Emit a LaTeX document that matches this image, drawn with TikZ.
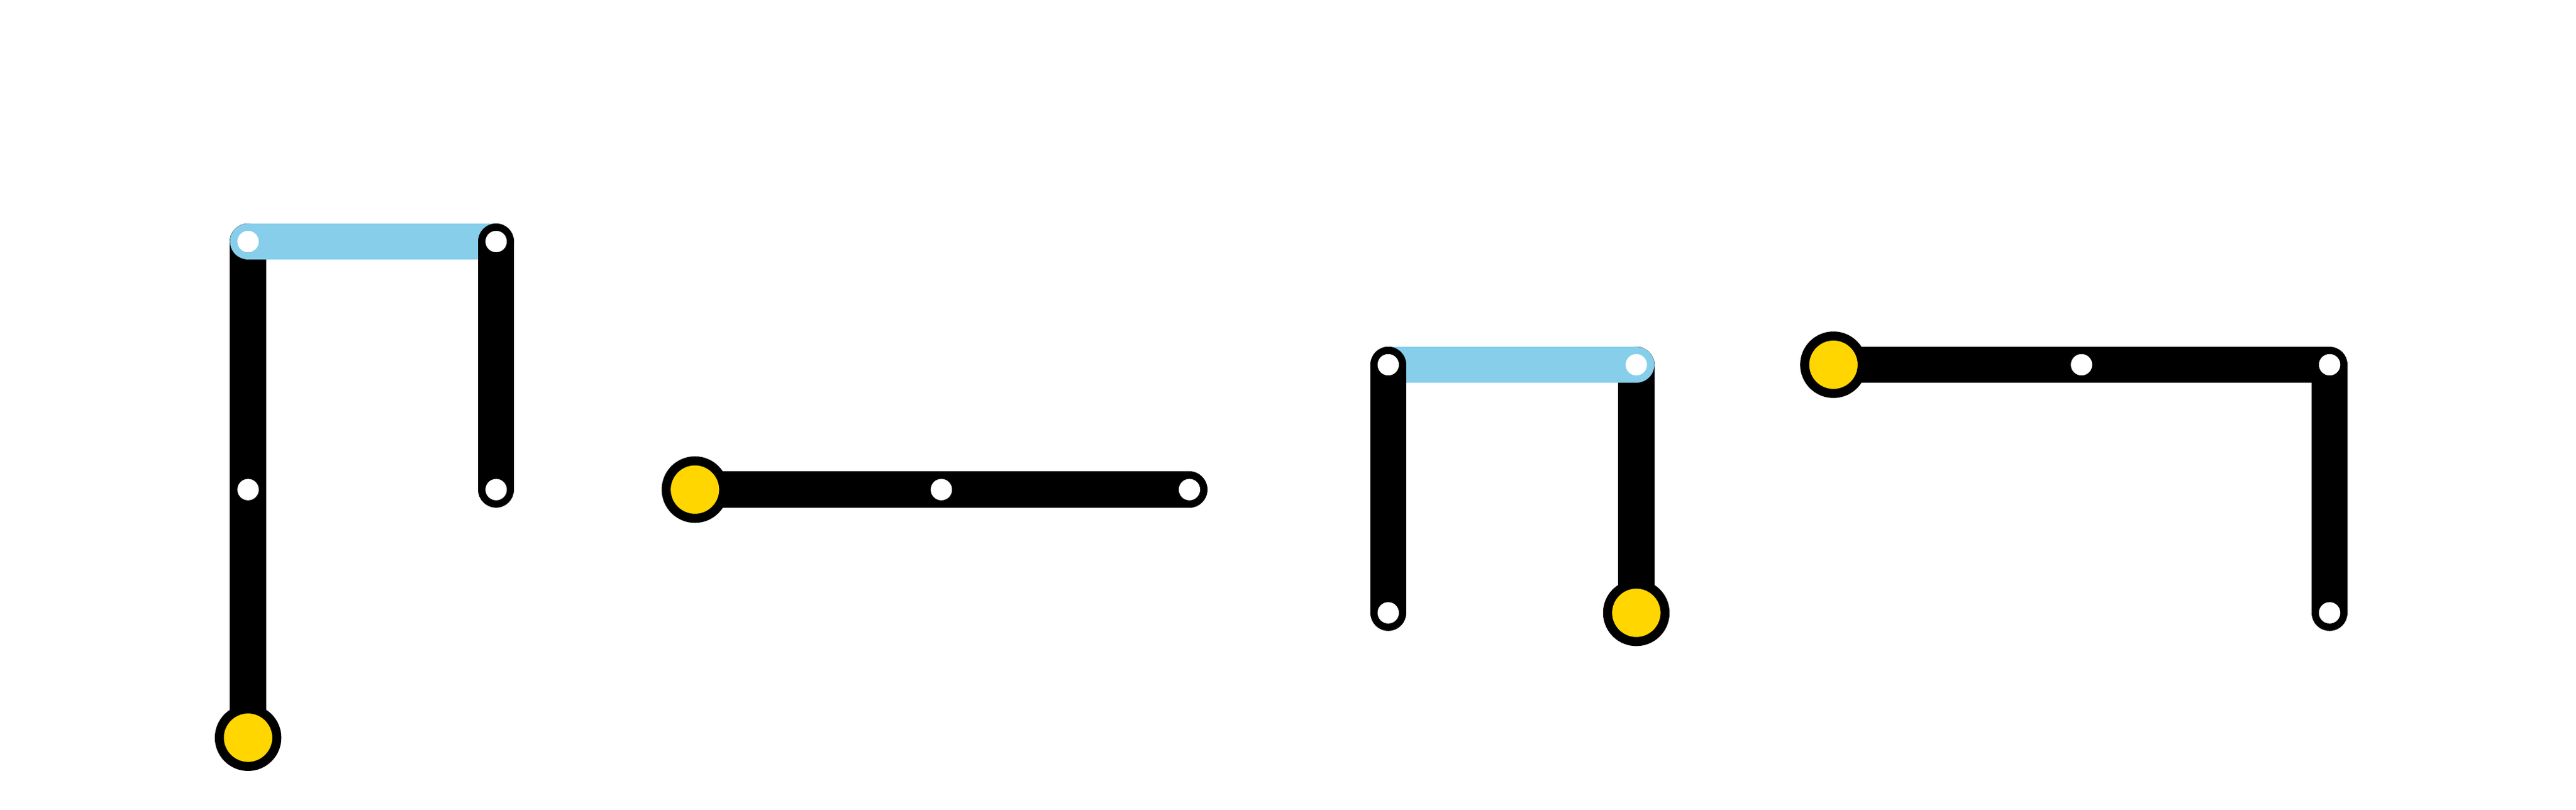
\documentclass[tikz,border=0pt]{standalone}
\begin{document}
\begin{tikzpicture}[x=1pt,y=-1pt,
  blk/.style={line width=22pt,line cap=round,line join=round,draw=black},
  blu/.style={line width=22pt,line cap=round,draw={rgb,255:red,135;green,206;blue,235}},
  st/.style={circle,fill=white,inner sep=0pt,minimum size=13pt},
  term/.style={circle,fill={rgb,255:red,255;green,214;blue,0},draw=black,line width=5.5pt,inner sep=0pt,minimum size=35pt}]
\useasboundingbox (0,0) rectangle (1568,493);
\coordinate (a1) at (151,147); \coordinate (a2) at (151,298); \coordinate (a3) at (151,449);
\coordinate (b1) at (302,147); \coordinate (b2) at (302,298);
\coordinate (c1) at (423,298); \coordinate (c2) at (573,298); \coordinate (c3) at (724,298);
\coordinate (d1) at (845,222); \coordinate (d2) at (845,373);
\coordinate (e1) at (996,222); \coordinate (e2) at (996,373);
\coordinate (f1) at (1116,222); \coordinate (f2) at (1267,222); \coordinate (f3) at (1418,222); \coordinate (f4) at (1418,373);
\draw[blk] (a3) -- (a1);
\draw[blu] (a1) -- (b1);
\draw[blk] (b1) -- (b2);
\draw[blk] (c1) -- (c3);
\draw[blk] (e1) -- (e2);
\draw[blu] (d1) -- (e1);
\draw[blk] (d1) -- (d2);
\draw[blk] (f1) -- (f3) -- (f4);
\foreach \p in {a1,a2,b1,b2,c2,c3,d1,d2,e1,f2,f3,f4} \node[st] (s\p) at (\p) {};
\foreach \p in {a3,c1,e2,f1} \node[term] (t\p) at (\p) {};
\end{tikzpicture}
\end{document}
